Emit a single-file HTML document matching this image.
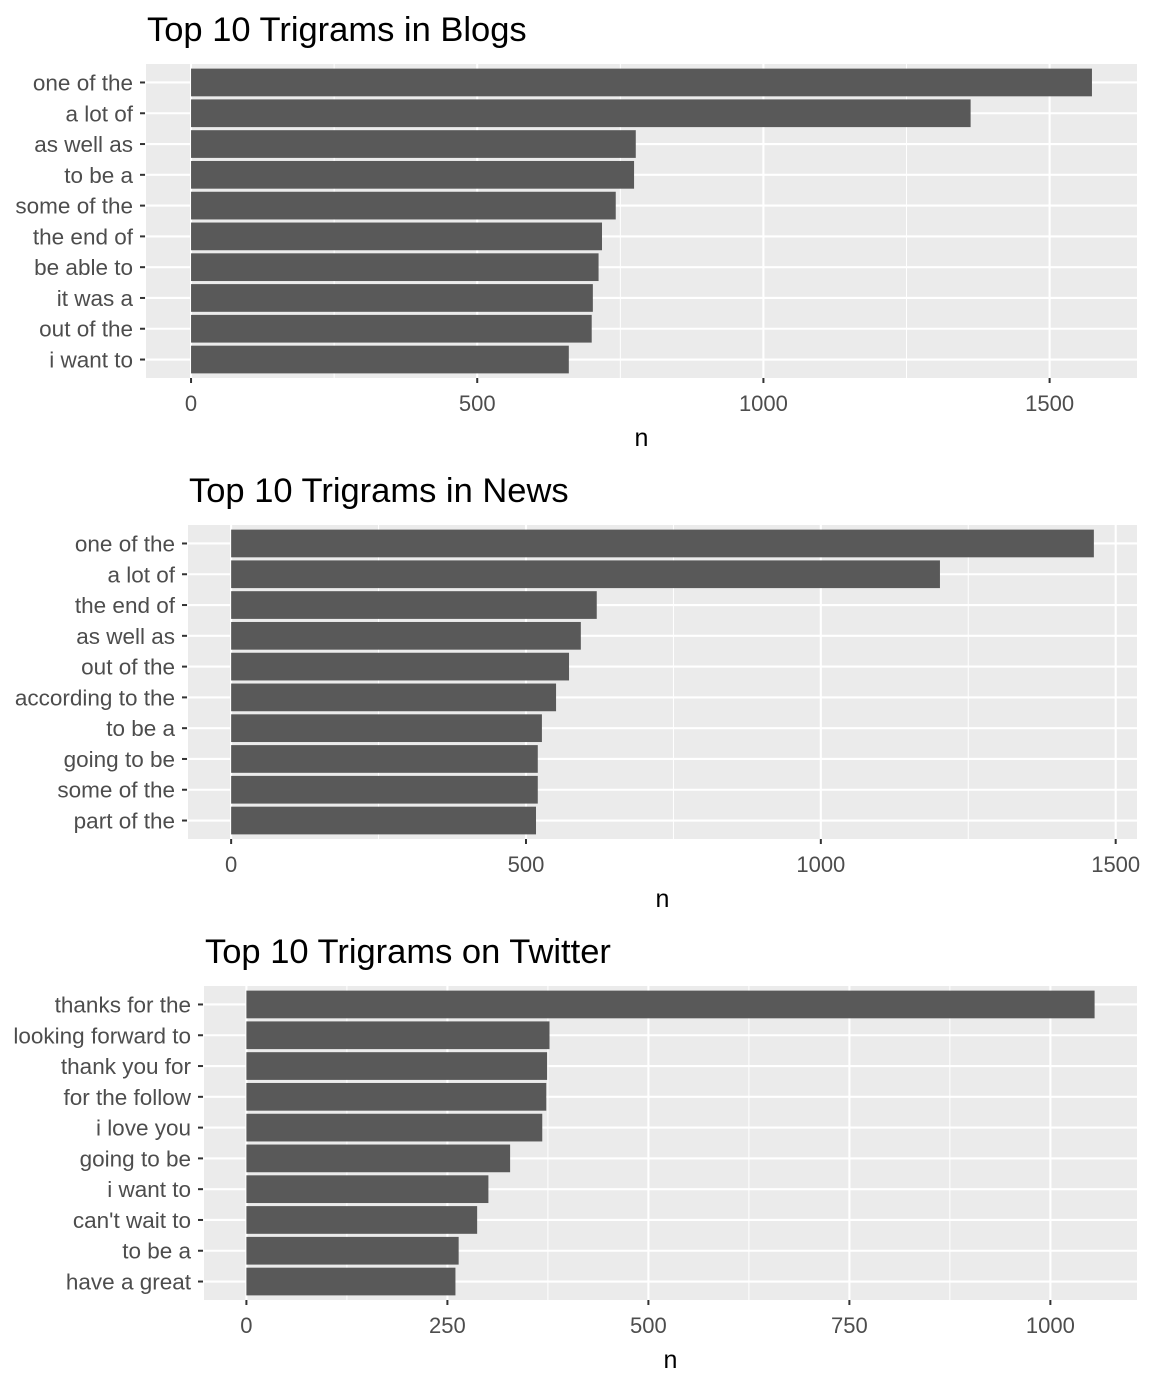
<!DOCTYPE html>
<html><head><meta charset="utf-8">
<style>
html,body{margin:0;padding:0;background:#fff;}
svg{display:block;font-family:"Liberation Sans",Arial,sans-serif;}
</style></head>
<body>
<svg id="chart" width="1152" height="1382" viewBox="0 0 1152 1382" xmlns="http://www.w3.org/2000/svg"></svg>
<script>
const blogsTerms = ["one of the","a lot of","as well as","to be a","some of the","the end of","be able to","it was a","out of the","i want to"];
const blogsValues = [1574,1362,777,774,742,718,712,702,700,660];
const blogsTicks = [0,500,1000,1500];
const newsTerms = ["one of the","a lot of","the end of","as well as","out of the","according to the","to be a","going to be","some of the","part of the"];
const newsValues = [1463,1202,620,593,573,551,527,520,520,517];
const newsTicks = [0,500,1000,1500];
const twitterTerms = ["thanks for the","looking forward to","thank you for","for the follow","i love you","going to be","i want to","can't wait to","to be a","have a great"];
const twitterValues = [1055,377,374,373,368,328,301,287,264,260];
const twitterTicks = [0,250,500,750,1000];

const NS="http://www.w3.org/2000/svg";
const svg=document.getElementById('chart');
function mk(tag,attrs,parent){const e=document.createElementNS(NS,tag);for(const k in attrs)e.setAttribute(k,attrs[k]);(parent||svg).appendChild(e);return e;}

function panel(key,title,terms,values,ticks,left,top){
  const right=1137, bottom=top+314;
  const g=mk('g',{});
  
  
  const maxV=Math.max(...values);
  const lo=-0.05*maxV, hi=maxV*1.05;
  const x=v=>left+(v-lo)/(hi-lo)*(right-left);
  const step=(bottom-top)/(terms.length+0.2);
  const y=i=>top+(0.6+i)*step;
  const bg=mk('rect',{x:left,y:top,width:right-left,height:bottom-top,fill:'#ebebeb'},g);
  
  
  const tstep=ticks[1]-ticks[0];
  for(let v=ticks[0]-tstep/2; v<=hi; v+=tstep/2){
    if(v<lo) continue;
    const major=ticks.includes(v);
    mk('line',{x1:x(v),x2:x(v),y1:top,y2:bottom,stroke:'#fff','stroke-width':major?2.1:1},g);
  }
  terms.forEach((t,i)=>{mk('line',{x1:left,x2:right,y1:y(i),y2:y(i),stroke:'#fff','stroke-width':2.1},g);});
  terms.forEach((t,i)=>{
    const b=mk('rect',{x:x(0),y:y(i)-step*0.45,width:x(values[i])-x(0),height:step*0.9,fill:'#595959'},g);
    
    
    mk('line',{x1:left-6,x2:left-1,y1:y(i),y2:y(i),stroke:'#333','stroke-width':2},g);
    const l=mk('text',{x:left-13,y:y(i)+8,'text-anchor':'end','font-size':22.5,fill:'#4d4d4d'},g);
    l.textContent=t;
    
    
  });
  ticks.forEach(v=>{
    mk('line',{x1:x(v),x2:x(v),y1:bottom,y2:bottom+5,stroke:'#333','stroke-width':2},g);
    const l=mk('text',{x:x(v),y:bottom+33,'text-anchor':'middle','font-size':22,fill:'#4d4d4d'},g);
    l.textContent=v;
    
    
  });
  const at=mk('text',{x:(left+right)/2,y:bottom+68,'text-anchor':'middle','font-size':25,fill:'#000'},g);
  at.textContent='n';
  
  
  const tt=mk('text',{x:left+1,y:top-23,'font-size':34.5,fill:'#000'},g);
  tt.textContent=title;
  
  
}
panel('blogs','Top 10 Trigrams in Blogs',blogsTerms,blogsValues,blogsTicks,146,64);
panel('news','Top 10 Trigrams in News',newsTerms,newsValues,newsTicks,188,525);
panel('twitter','Top 10 Trigrams on Twitter',twitterTerms,twitterValues,twitterTicks,204,986);
</script>
</body></html>
